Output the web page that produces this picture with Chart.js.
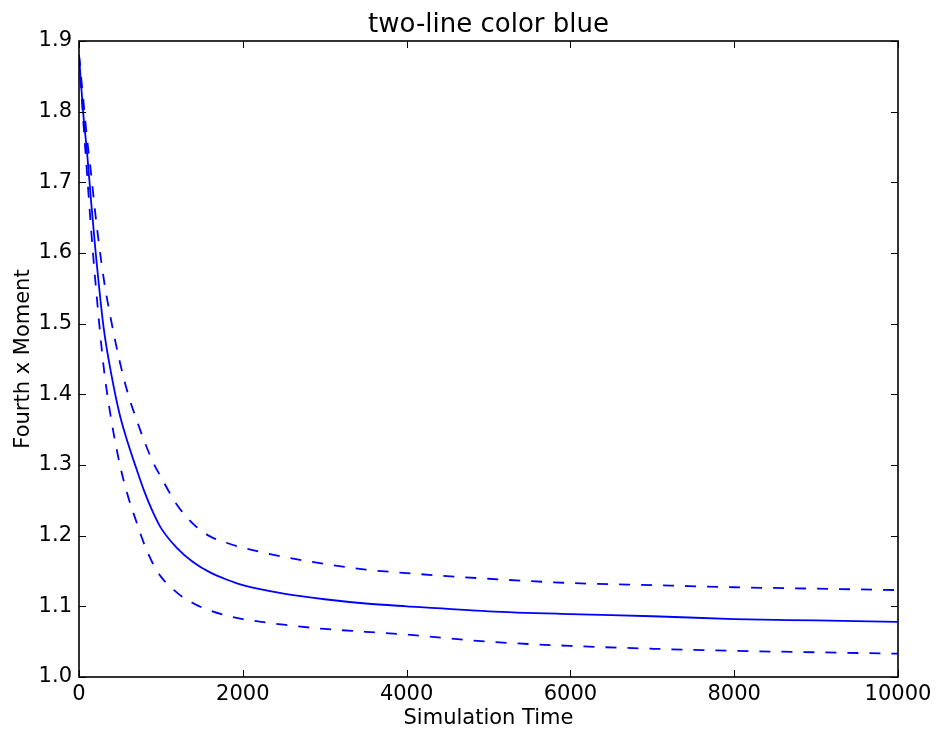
<!DOCTYPE html>
<html>
<head>
<meta charset="utf-8">
<script src="https://cdn.jsdelivr.net/npm/chart.js@4.4.1/dist/chart.umd.min.js"></script>
<style>
  html, body { margin: 0; padding: 0; background: #fff; }
  #wrap { width: 940px; height: 731px; }
</style>
</head>
<body>
<div id="wrap"><canvas id="myChart" width="940" height="731"></canvas></div>
<script>
// simulation times and the fourth x moment (mean and the two bounds)
const times = [0, 50, 100, 150, 200, 300, 400, 500, 600, 700, 800, 900, 1000, 1200, 1400, 1600, 1800, 2000, 2500, 3000, 3500, 4000, 5000, 6000, 7000, 8000, 9000, 10000];
const meanMoment = [1.88, 1.80, 1.74, 1.67, 1.605, 1.495, 1.425, 1.37, 1.33, 1.295, 1.262, 1.234, 1.211, 1.182, 1.162, 1.148, 1.138, 1.130, 1.118, 1.110, 1.104, 1.100, 1.093, 1.089, 1.086, 1.082, 1.080, 1.078];
const upperMoment = [1.88, 1.82, 1.76, 1.71, 1.655, 1.565, 1.50, 1.445, 1.40, 1.365, 1.333, 1.305, 1.283, 1.243, 1.216, 1.199, 1.190, 1.183, 1.170, 1.160, 1.152, 1.147, 1.139, 1.133, 1.130, 1.127, 1.125, 1.123];
const lowerMoment = [1.88, 1.79, 1.71, 1.63, 1.56, 1.44, 1.36, 1.30, 1.255, 1.22, 1.187, 1.161, 1.142, 1.119, 1.104, 1.094, 1.087, 1.082, 1.074, 1.068, 1.064, 1.060, 1.050, 1.044, 1.040, 1.037, 1.035, 1.033];

const xTicks = [0, 2000, 4000, 6000, 8000, 10000];
const yTicks = [1.0, 1.1, 1.2, 1.3, 1.4, 1.5, 1.6, 1.7, 1.8, 1.9];
const chartTitle = 'two-line color blue';

const FONT = 'DejaVu Sans';

function points(ys) {
    return times.map((t, i) => ({ x: t, y: ys[i] }));
}

// black box round the plot with inward ticks on every side, title centred over the box
const frame = {
    id: 'frame',
    afterDraw(chart) {
        const c = chart.ctx;
        const a = chart.chartArea;
        const sx = chart.scales.x, sy = chart.scales.y;
        const len = 7;
        c.save();
        c.strokeStyle = '#000';
        c.lineWidth = 1;
        xTicks.forEach(v => {
            const px = Math.round(sx.getPixelForValue(v)) + 0.5;
            c.beginPath();
            c.moveTo(px, a.bottom); c.lineTo(px, a.bottom - len);
            c.moveTo(px, a.top); c.lineTo(px, a.top + len);
            c.stroke();
        });
        yTicks.forEach(v => {
            const py = Math.round(sy.getPixelForValue(v)) + 0.5;
            c.beginPath();
            c.moveTo(a.left, py); c.lineTo(a.left + len, py);
            c.moveTo(a.right, py); c.lineTo(a.right - len, py);
            c.stroke();
        });
        c.lineWidth = 1.6;
        c.strokeRect(a.left, a.top, a.right - a.left, a.bottom - a.top);

        c.fillStyle = '#000';
        c.font = '26px "' + FONT + '"';
        c.textAlign = 'center';
        c.textBaseline = 'alphabetic';
        c.fillText(chartTitle, (a.left + a.right) / 2, a.top - 9);
        c.restore();
    }
};

const ctx = document.getElementById('myChart');
const myChart = new Chart(ctx, {
    type: 'scatter',
    data: {
        datasets: [
            {
                data: points(meanMoment),
                borderColor: '#0000ff',
                borderWidth: 1.8,
                pointRadius: 0,
                showLine: true,
                cubicInterpolationMode: 'monotone',
            },
            {
                data: points(upperMoment),
                borderColor: '#0000ff',
                borderWidth: 1.8,
                borderDash: [11, 11],
                pointRadius: 0,
                showLine: true,
                cubicInterpolationMode: 'monotone',
            },
            {
                data: points(lowerMoment),
                borderColor: '#0000ff',
                borderWidth: 1.8,
                borderDash: [11, 11],
                pointRadius: 0,
                showLine: true,
                cubicInterpolationMode: 'monotone',
            },
        ]
    },
    options: {
        responsive: false,
        animation: false,
        layout: { padding: { left: 0, right: 42, top: 41, bottom: 0 } },
        plugins: {
            legend: { display: false },
            tooltip: { enabled: false },
            title: { display: false },
        },
        scales: {
            x: {
                type: 'linear',
                min: 0,
                max: 10000,
                grid: { display: false, drawTicks: false },
                border: { display: false },
                afterBuildTicks: s => { s.ticks = xTicks.map(v => ({ value: v })); },
                afterFit: s => { s.height = 54; },
                ticks: {
                    color: '#000',
                    padding: 5,
                    maxRotation: 0,
                    font: { family: FONT, size: 21 },
                    callback: v => String(v),
                },
                title: {
                    display: true,
                    text: 'Simulation Time',
                    color: '#000',
                    font: { family: FONT, size: 21 },
                    padding: { top: 0, bottom: 0 },
                },
            },
            y: {
                type: 'linear',
                min: 1.0,
                max: 1.9,
                grid: { display: false, drawTicks: false },
                border: { display: false },
                afterBuildTicks: s => { s.ticks = yTicks.map(v => ({ value: v })); },
                afterFit: s => { s.width = 79; },
                ticks: {
                    color: '#000',
                    padding: 7,
                    font: { family: FONT, size: 21 },
                    callback: v => Number(v).toFixed(1),
                },
                title: {
                    display: true,
                    text: 'Fourth x Moment',
                    color: '#000',
                    font: { family: FONT, size: 21 },
                    padding: { top: 11, bottom: 0 },
                },
            }
        }
    },
    plugins: [frame]
});
</script>
</body>
</html>
